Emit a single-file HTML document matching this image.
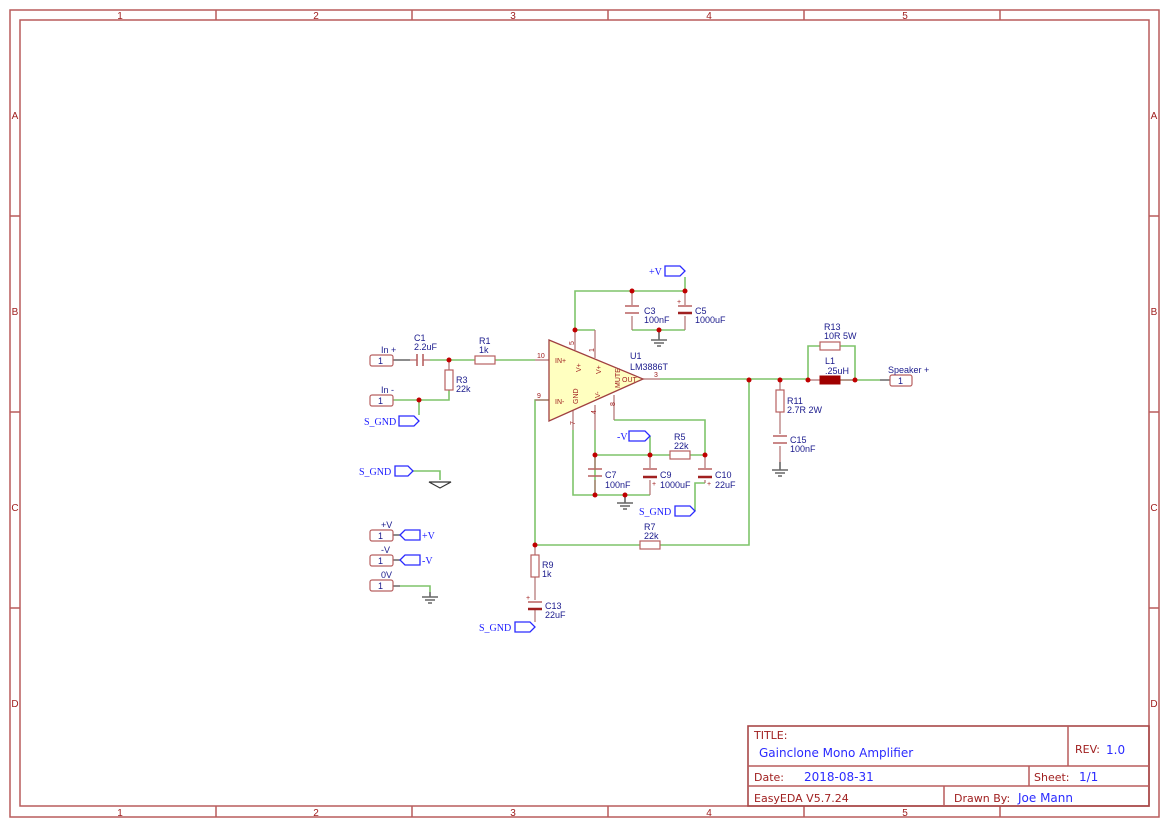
<!DOCTYPE html>
<html><head><meta charset="utf-8"><style>
html,body{margin:0;padding:0;background:#fff}
svg{display:block}
.f{fill:none;stroke:#b85c5c;stroke-width:1.5}
.fl{font-family:"Liberation Sans",sans-serif;font-size:10px;fill:#a02020;text-anchor:middle}
.w{stroke:#7ec46a;stroke-width:1.6;fill:none}
.p{stroke:#b07070;stroke-width:1.2;fill:none}
.g{stroke:#666;stroke-width:1.6;fill:none}
.r{fill:#fff;stroke:#b86060;stroke-width:1.2}
.t{font-family:"Liberation Sans",sans-serif;font-size:9px;fill:#1a1a8c}
.n{font-family:"Liberation Serif",serif;font-size:10px;fill:#1a1aff}
.pn{font-family:"Liberation Sans",sans-serif;font-size:7px;fill:#a02020}
.flag{fill:#fff;stroke:#2a2aff;stroke-width:1.3}
.j{fill:#c00000}
.cp{stroke:#b86060;stroke-width:1.6}
.cpe{stroke:#a02020;stroke-width:2.4}
.tb{font-family:"DejaVu Sans","Liberation Sans",sans-serif;font-size:11px;fill:#a02020}
.tv{font-family:"DejaVu Sans","Liberation Sans",sans-serif;font-size:12px;fill:#2a2aff}
</style></head><body>
<svg width="1169" height="827" viewBox="0 0 1169 827" xmlns="http://www.w3.org/2000/svg">
<rect class="f" x="10" y="10" width="1149" height="807"/>
<rect class="f" x="20" y="20" width="1129" height="786"/>
<g class="f">
<path d="M216 10V20M412 10V20M608 10V20M804 10V20M1000 10V20"/>
<path d="M216 806V817M412 806V817M608 806V817M804 806V817M1000 806V817"/>
<path d="M10 216H20M10 412H20M10 608H20M1149 216H1159M1149 412H1159M1149 608H1159"/>
</g>
<g class="fl">
<text x="120" y="19">1</text><text x="316" y="19">2</text><text x="513" y="19">3</text><text x="709" y="19">4</text><text x="905" y="19">5</text>
<text x="120" y="816">1</text><text x="316" y="816">2</text><text x="513" y="816">3</text><text x="709" y="816">4</text><text x="905" y="816">5</text>
<text x="15" y="119">A</text><text x="15" y="315">B</text><text x="15" y="511">C</text><text x="15" y="707">D</text>
<text x="1154" y="119">A</text><text x="1154" y="315">B</text><text x="1154" y="511">C</text><text x="1154" y="707">D</text>
</g>
<rect x="748" y="726" width="401" height="80" fill="none" stroke="#a84848" stroke-width="1.6"/>
<g class="f"><path d="M748 766H1149M748 786H1149M1068 726V766M1029 766V786M944 786V806"/></g>
<text class="tb" x="754" y="739" font-size="10">TITLE:</text>
<text class="tv" x="759" y="757" font-size="14">Gainclone Mono Amplifier</text>
<text class="tb" x="1075" y="753">REV:</text><text class="tv" x="1106" y="754" font-size="13">1.0</text>
<text class="tb" x="754" y="781">Date:</text><text class="tv" x="804" y="781">2018-08-31</text>
<text class="tb" x="1034" y="781">Sheet:</text><text class="tv" x="1079" y="781">1/1</text>
<text class="tb" x="754" y="802">EasyEDA V5.7.24</text>
<text class="tb" x="954" y="802">Drawn By:</text><text class="tv" x="1018" y="802">Joe Mann</text>

<g class="w">
<path d="M430 360H475M495 360H535"/>
<path d="M449 390V400H419V415"/>
<path d="M393 400H419"/>
<path d="M575 330V291H685V277M595 330V330M575 330H595"/>
<path d="M632 330H685"/>
<path d="M660 379H808M808 380V346H820M840 346H855V380M840 380H880"/>
<path d="M749 380V545H660M640 545H535V400H549"/>
<path d="M573 430V495H650M595 430V495M595 455H670M690 455H705M650 436V455M614 420H705V455"/>
<path d="M705 483V483H695V511"/>
<path d="M413 471H440V480"/>
<path d="M400 586H430V592"/>
</g>
<g class="g"><path d="M393 360H410M880 380H890M393 535H402M393 560H402M393 586H400"/></g>
<g class="p">
<path d="M410 360H417M423 360H430"/>
<path d="M535 360H549M535 400H549M575 330V350M595 330V358M643 379H660"/>
<path d="M573 410V430M595 405V430M614 395V420"/>
<path d="M449 360V370"/>
<path d="M632 291V305M632 316V330M685 291V305M685 316V330"/>
<path d="M595 455V468M595 480V495M650 455V468M650 480V495M705 455V468M705 480V483"/>
<path d="M780 380V390M780 412V434M780 446V462M535 545V555M535 577V600M535 610V622"/>
<path d="M808 380H820M840 380H855"/>
</g>
<polygon points="549,340 549,421 643,379" fill="#ffffc0" stroke="#a04040" stroke-width="1.3"/>
<g class="pn">
<text x="555" y="363">IN+</text><text x="555" y="404">IN-</text>
<text x="622" y="382">OUT</text>
<text x="537" y="358">10</text><text x="537" y="398">9</text><text x="654" y="377">3</text>
<text transform="translate(574,345) rotate(-90)">5</text>
<text transform="translate(594,352) rotate(-90)">1</text>
<text transform="translate(581,372) rotate(-90)">V+</text>
<text transform="translate(601,374) rotate(-90)">V+</text>
<text transform="translate(578,404) rotate(-90)">GND</text>
<text transform="translate(600,398) rotate(-90)">V-</text>
<text transform="translate(620,388) rotate(-90)">MUTE</text>
<text transform="translate(575,425) rotate(-90)">7</text>
<text transform="translate(596,414) rotate(-90)">4</text>
<text transform="translate(615,406) rotate(-90)">8</text>
</g>
<text class="t" x="630" y="359">U1</text><text class="t" x="630" y="370">LM3886T</text>

<rect class="r" x="475" y="356" width="20" height="8"/>
<rect class="r" x="445" y="370" width="8" height="20"/>
<rect class="r" x="670" y="451" width="20" height="8"/>
<rect class="r" x="640" y="541" width="20" height="8"/>
<rect class="r" x="531" y="555" width="8" height="22"/>
<rect class="r" x="776" y="390" width="8" height="22"/>
<rect class="r" x="820" y="342" width="20" height="8"/>
<rect x="820" y="376" width="20" height="8" fill="#a00000" stroke="#a00000"/>
<g class="cp"><path d="M417 354V366M423 354V366"/>
<path d="M625 306H639M625 313H639M588 469H602M588 476H602M773 436H787M773 443H787"/>
<path d="M678 306H692M643 469H657M698 469H712M528 602H542"/></g>
<g class="cpe"><path d="M678 313H692M643 477H657M698 477H712M528 609H542"/></g>
<g class="pn" font-size="8"><text x="677" y="304">+</text><text x="652" y="486">+</text><text x="707" y="486">+</text><text x="526" y="600">+</text></g>
<g class="g"><path d="M659 330V340M651 340H667M654 343H664M657 346H661"/>
<path d="M625 495V503M617 503H633M620 506H630M623 509H627"/>
<path d="M780 462V470M772 470H788M775 473H785M778 476H782"/>
<path d="M430 592V597M422 597H438M425 600H435M428 603H432"/></g>
<polygon points="429,482 451,482 440,488" fill="#fff" stroke="#333" stroke-width="1.2"/>
<g class="j">
<circle cx="449" cy="360" r="2.5"/><circle cx="419" cy="400" r="2.5"/><circle cx="575" cy="330" r="2.5"/>
<circle cx="632" cy="291" r="2.5"/><circle cx="685" cy="291" r="2.5"/><circle cx="659" cy="330" r="2.5"/>
<circle cx="749" cy="380" r="2.5"/><circle cx="780" cy="380" r="2.5"/><circle cx="808" cy="380" r="2.5"/><circle cx="855" cy="380" r="2.5"/>
<circle cx="595" cy="455" r="2.5"/><circle cx="650" cy="455" r="2.5"/><circle cx="705" cy="455" r="2.5"/>
<circle cx="595" cy="495" r="2.5"/><circle cx="625" cy="495" r="2.5"/><circle cx="535" cy="545" r="2.5"/>
</g>
<g>
<rect class="r" x="370" y="355" width="23" height="11" rx="2"/><text class="t" x="378" y="364" fill="#000">1</text>
<rect class="r" x="370" y="395" width="23" height="11" rx="2"/><text class="t" x="378" y="404" fill="#000">1</text>
<rect class="r" x="890" y="375" width="22" height="11" rx="2"/><text class="t" x="898" y="384" fill="#000">1</text>
<rect class="r" x="370" y="530" width="23" height="11" rx="2"/><text class="t" x="378" y="539" fill="#000">1</text>
<rect class="r" x="370" y="555" width="23" height="11" rx="2"/><text class="t" x="378" y="564" fill="#000">1</text>
<rect class="r" x="370" y="580" width="23" height="11" rx="2"/><text class="t" x="378" y="589" fill="#000">1</text>
</g>
<g class="flag">
<path d="M665 266H680L685 271L680 276H665Z"/>
<path d="M399 416H414L419 421L414 426H399Z"/>
<path d="M395 466H408L413 471L408 476H395Z"/>
<path d="M629 431H645L650 436L645 441H629Z"/>
<path d="M675 506H690L695 511L690 516H675Z"/>
<path d="M515 622H530L535 627L530 632H515Z"/>
<path d="M400 535L405 530H420V540H405Z"/>
<path d="M400 560L405 555H420V565H405Z"/>
</g>
<g class="n">
<text x="649" y="275">+V</text><text x="364" y="425">S_GND</text><text x="359" y="475">S_GND</text>
<text x="617" y="440">-V</text><text x="639" y="515">S_GND</text><text x="479" y="631">S_GND</text>
<text x="422" y="539">+V</text><text x="422" y="564">-V</text>
</g>
<g class="t">
<text x="381" y="353">In +</text><text x="381" y="393">In -</text>
<text x="414" y="341">C1</text><text x="414" y="350">2.2uF</text>
<text x="479" y="344">R1</text><text x="479" y="353">1k</text>
<text x="456" y="383">R3</text><text x="456" y="392">22k</text>
<text x="644" y="314">C3</text><text x="644" y="323">100nF</text>
<text x="695" y="314">C5</text><text x="695" y="323">1000uF</text>
<text x="674" y="440">R5</text><text x="674" y="449">22k</text>
<text x="605" y="478">C7</text><text x="605" y="488">100nF</text>
<text x="660" y="478">C9</text><text x="660" y="488">1000uF</text>
<text x="715" y="478">C10</text><text x="715" y="488">22uF</text>
<text x="644" y="530">R7</text><text x="644" y="539">22k</text>
<text x="542" y="568">R9</text><text x="542" y="577">1k</text>
<text x="545" y="609">C13</text><text x="545" y="618">22uF</text>
<text x="787" y="404">R11</text><text x="787" y="413">2.7R 2W</text>
<text x="790" y="443">C15</text><text x="790" y="452">100nF</text>
<text x="824" y="330">R13</text><text x="824" y="339">10R 5W</text>
<text x="825" y="364">L1</text><text x="825" y="374">.25uH</text>
<text x="888" y="373">Speaker +</text>
<text x="381" y="528">+V</text><text x="381" y="553">-V</text><text x="381" y="578">0V</text>
</g>
</svg>
</body></html>
